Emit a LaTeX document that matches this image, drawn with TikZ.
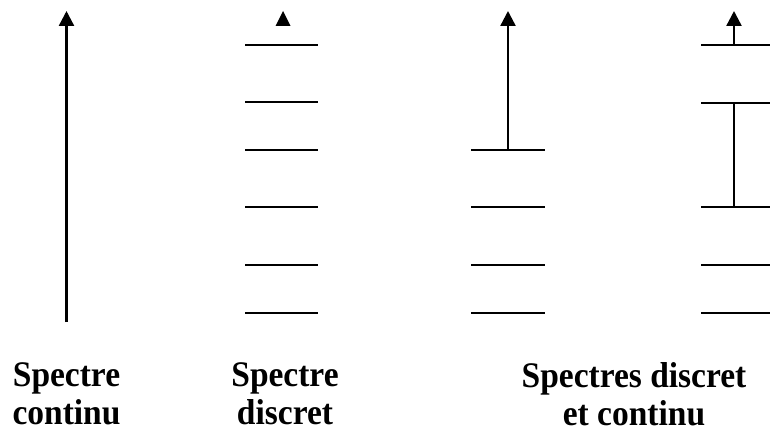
\documentclass[tikz,border=0pt]{standalone}
\usepackage{fontspec}
\setmainfont{Liberation Serif}
\newfontfamily\lblfont[FakeStretch=0.93]{Liberation Serif}
\usetikzlibrary{arrows.meta}
\begin{document}
\begin{tikzpicture}[x=1pt,y=-1pt,
  level/.style={line width=2pt},
  thinlevel/.style={line width=1.3pt},
  stem/.style={line width=2.4pt},
  up/.style={stem,-{Triangle[width=15pt,length=15pt]}},
  tip/.style={fill=black},
  label/.style={align=center,anchor=north,inner sep=0pt,font=\lblfont\fontsize{36}{38}\selectfont\bfseries}]
\useasboundingbox (0,0) rectangle (770,433);
% column 1: continuous spectrum
\coordinate (c1b) at (66.5,322);
\coordinate (c1t) at (66.5,11);
\draw[up] (c1b) -- (c1t);
% column 2: discrete spectrum
\foreach \y [count=\i] in {45,102,150,207,265,313}{
  \coordinate (d\i l) at (245,\y);
  \coordinate (d\i r) at (318,\y);
  \draw[level] (d\i l) -- (d\i r);
}
\coordinate (dtip) at (283,11);
\fill[tip] (dtip) -- ++(7.5,15) -- ++(-15,0) -- cycle;
% column 3: discrete and continuous
\foreach \y [count=\i] in {150,207,265,313}{
  \coordinate (e\i l) at (471,\y);
  \coordinate (e\i r) at (545,\y);
  \draw[level] (e\i l) -- (e\i r);
}
\coordinate (e1m) at (508,150);
\coordinate (e1t) at (508,11);
\draw[up] (e1m) -- (e1t);
% column 4
\foreach \y [count=\i] in {45,207,265,313}{
  \coordinate (f\i l) at (701,\y);
  \coordinate (f\i r) at (772,\y);
  \draw[level] (f\i l) -- (f\i r);
}
\coordinate (fml) at (701,103);
\coordinate (fmr) at (772,103);
\draw[thinlevel] (fml) -- (fmr);
\coordinate (fm) at (734,103);
\coordinate (fb) at (734,207);
\draw[stem] (fm) -- (fb);
\coordinate (ft) at (734,45);
\coordinate (ftt) at (734,11);
\draw[up] (ft) -- (ftt);
% labels
\node[label] (l1) at (66.5,362) {Spectre\\continu};
\node[label] (l2) at (285,362) {Spectre\\discret};
\node[label] (l3) at (634,362) {Spectres discret\\et continu};
\end{tikzpicture}
\end{document}
